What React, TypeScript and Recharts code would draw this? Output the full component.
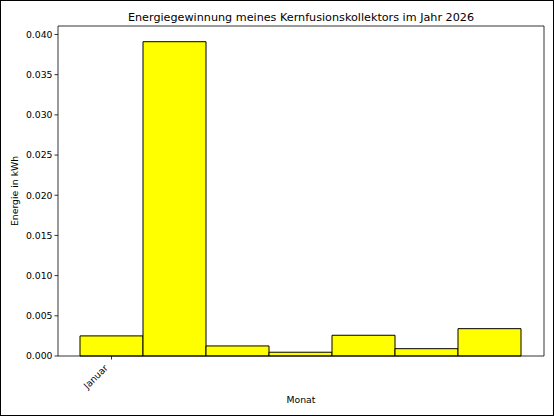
import { BarChart, Bar, XAxis, YAxis, Label } from "recharts";

const months = ["Januar", "Februar", "März", "April", "Mai", "Juni", "Juli"];
const energy = [0.0025, 0.0391, 0.00125, 0.00047, 0.00258, 0.00091, 0.0034];
const yTicks = [0, 0.005, 0.01, 0.015, 0.02, 0.025, 0.03, 0.035, 0.04];
const xTicks = ["Januar"];

const data = months.map((m, i) => ({ month: m, kwh: energy[i] }));

const FONT = "'DejaVu Sans', sans-serif";

// rotated tick label, right end sits at the tick like mpl's ha="right"
const RotatedTick = (props: any) => {
  const { x, y, payload } = props;
  const ax = x - 3;
  const ay = y + 7;
  return (
    <text
      x={ax}
      y={ay}
      transform={`rotate(-45 ${ax} ${ay})`}
      textAnchor="end"
      fontSize={9.3}
      fontFamily={FONT}
      fill="#000"
    >
      {payload.value}
    </text>
  );
};

const App = () => {
  return (
    <div style={{ position: "absolute", left: 0, top: 0, width: 554, height: 416, background: "#fff" }}>
      <BarChart
        width={554}
        height={416}
        data={data}
        margin={{ top: 25, right: 9, bottom: 0, left: 0 }}
        barCategoryGap={0}
        barGap={0}
      >
        <text
          x={301}
          y={21}
          textAnchor="middle"
          fontSize={11.2}
          fontFamily={FONT}
          fill="#000"
        >
          Energiegewinnung meines Kernfusionskollektors im Jahr 2026
        </text>
        <XAxis
          dataKey="month"
          ticks={xTicks}
          interval={0}
          height={60}
          padding={{ left: 22, right: 23 }}
          tick={<RotatedTick />}
          tickSize={3.5}
          tickMargin={2}
          axisLine={{ stroke: "#000", strokeWidth: 0.8 }}
          tickLine={{ stroke: "#000", strokeWidth: 0.8 }}
        >
          <Label
            value="Monat"
            position="insideBottom"
            offset={13}
            style={{ fontSize: 9.3, fontFamily: FONT, fill: "#000" }}
          />
        </XAxis>
        <XAxis
          xAxisId="top"
          orientation="top"
          dataKey="month"
          height={1}
          tick={false}
          tickLine={false}
          axisLine={{ stroke: "#000", strokeWidth: 0.8 }}
        />
        <YAxis
          width={58}
          domain={[0, (max: number) => max * 1.05]}
          ticks={yTicks}
          interval={0}
          tickFormatter={(v: number) => v.toFixed(3)}
          tick={{ fontSize: 9.3, fontFamily: FONT, fill: "#000" }}
          tickSize={3.5}
          tickMargin={2}
          axisLine={{ stroke: "#000", strokeWidth: 0.8 }}
          tickLine={{ stroke: "#000", strokeWidth: 0.8 }}
        >
          <Label
            value="Energie in kWh"
            angle={-90}
            position="insideLeft"
            offset={15}
            style={{ fontSize: 9.3, fontFamily: FONT, fill: "#000", textAnchor: "middle" }}
          />
        </YAxis>
        <YAxis
          yAxisId="right"
          orientation="right"
          width={1}
          domain={[0, 1]}
          tick={false}
          tickLine={false}
          axisLine={{ stroke: "#000", strokeWidth: 0.8 }}
        />
        <Bar
          dataKey="kwh"
          fill="#ffff00"
          stroke="#000"
          strokeWidth={1}
          isAnimationActive={false}
        />
      </BarChart>
      <div
        style={{
          position: "absolute",
          left: 0,
          top: 0,
          width: 554,
          height: 416,
          boxSizing: "border-box",
          border: "1.5px solid #000",
          pointerEvents: "none",
        }}
      />
    </div>
  );
};

export default App;
